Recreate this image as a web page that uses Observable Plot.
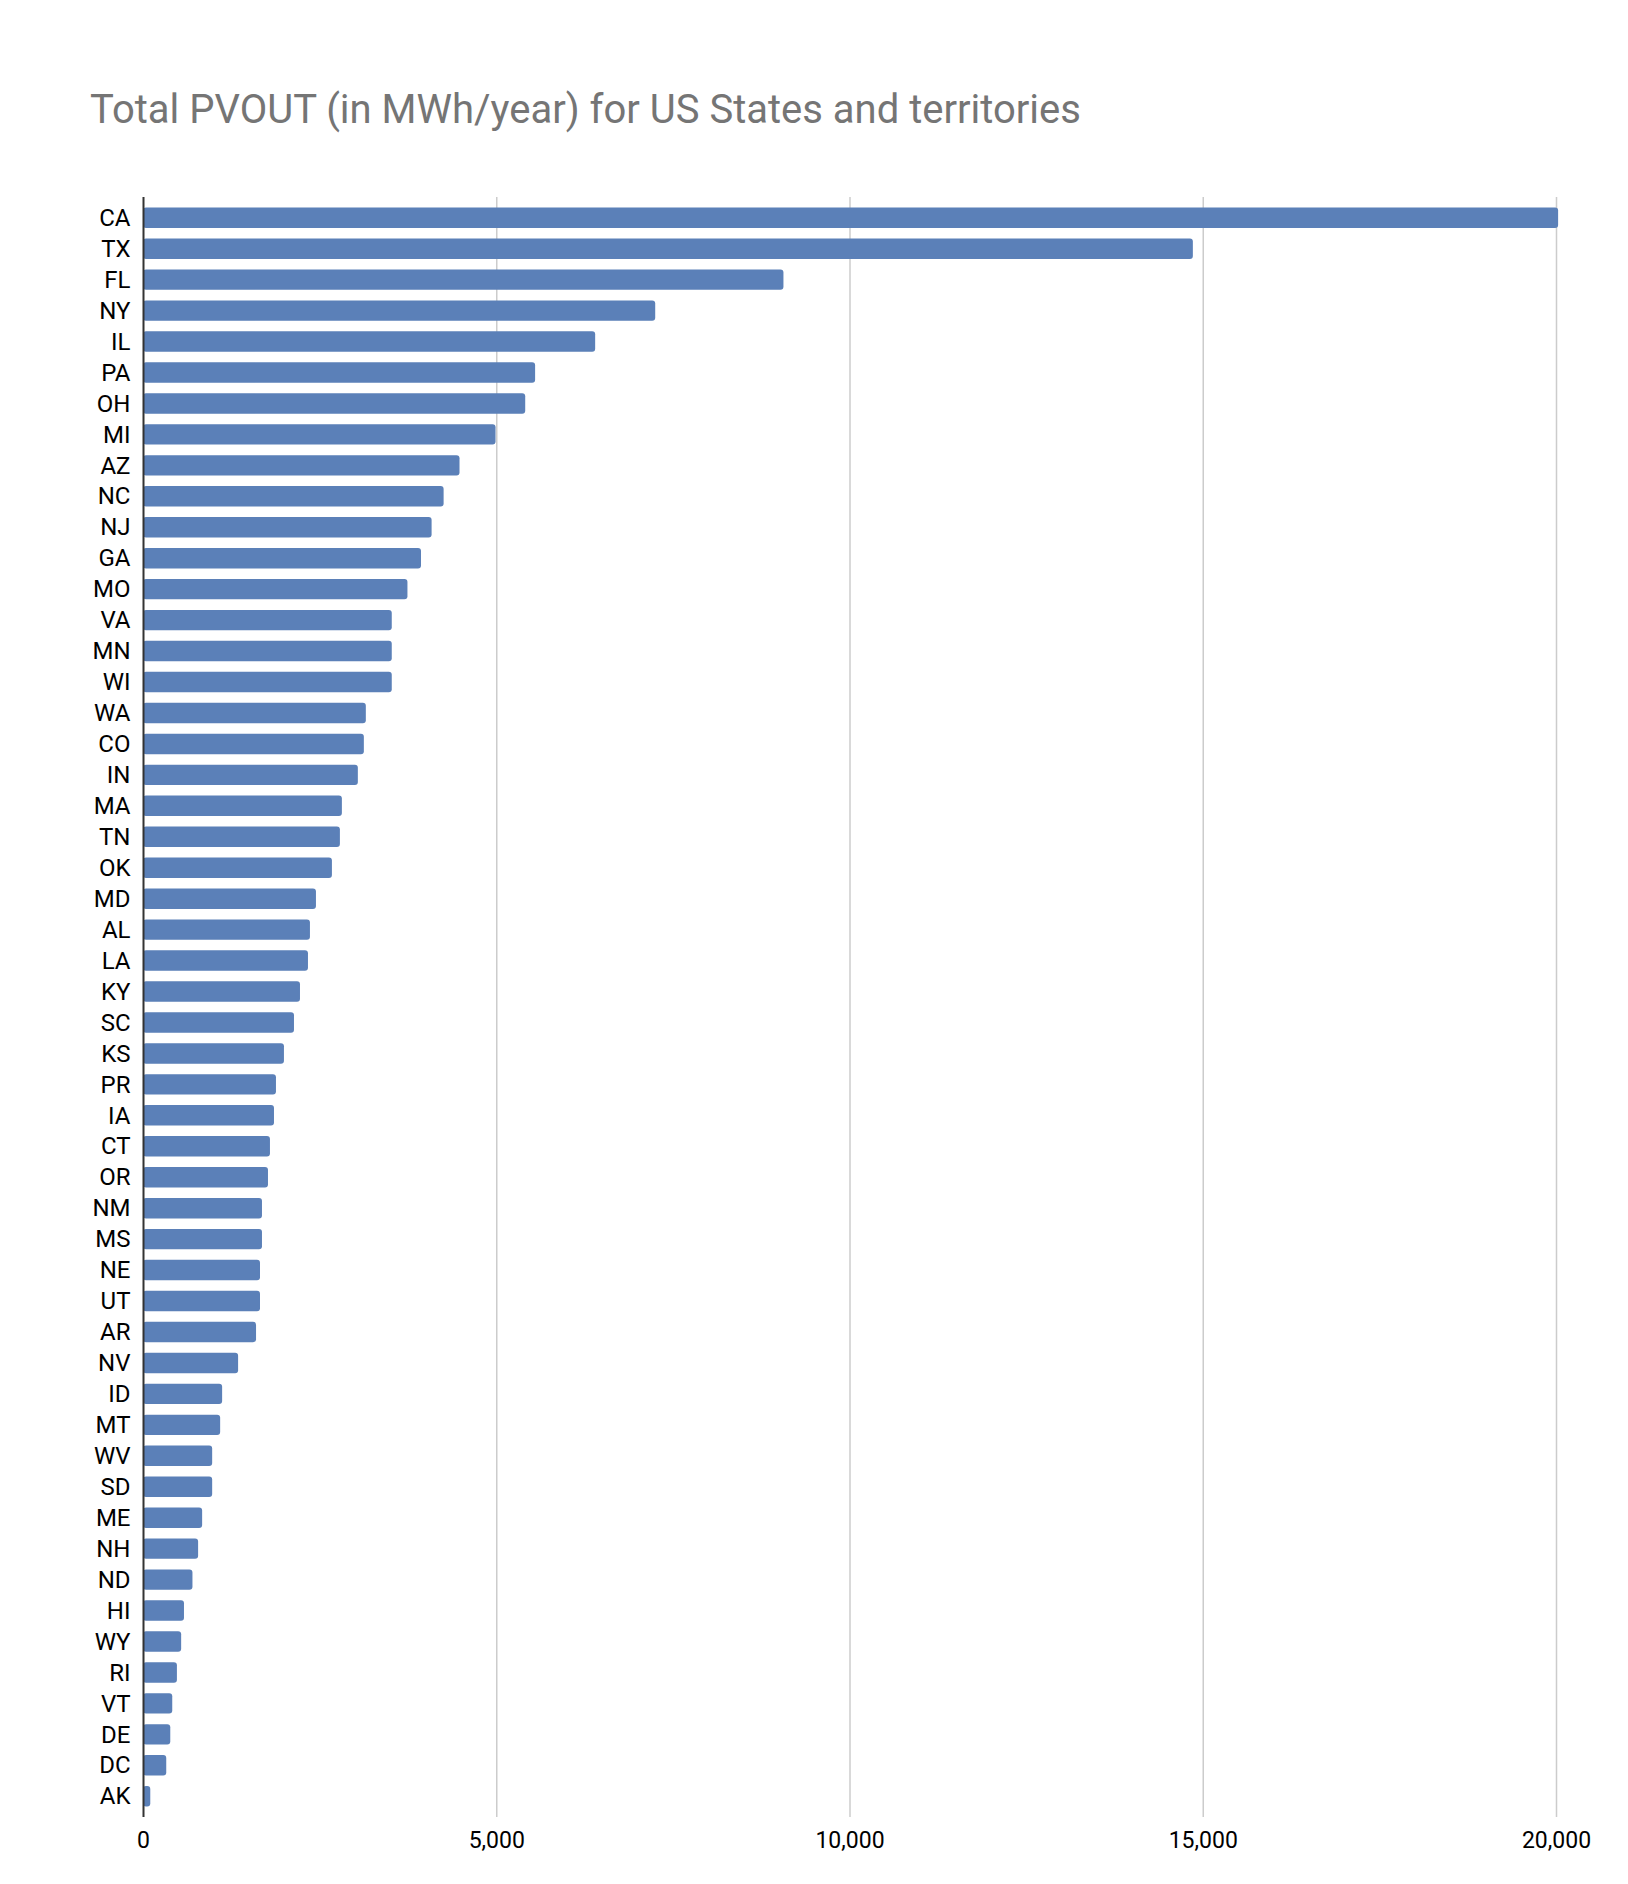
<!DOCTYPE html>
<html>
<head>
<meta charset="utf-8">
<script src="https://cdn.jsdelivr.net/npm/d3@7"></script>
<script src="https://cdn.jsdelivr.net/npm/@observablehq/plot@0.6"></script>
<style>
  html, body { margin: 0; padding: 0; background: #fff; }
  body { width: 1628px; height: 1884px; position: relative; font-family: Roboto, "Noto Sans", sans-serif; }
  #title { position: absolute; left: 90px; top: 90px; font-size: 40px; line-height: 40px; color: #757575; white-space: nowrap; }
  #chart { position: absolute; left: 0; top: 160px; }
</style>
</head>
<body>
<div id="title">Total PVOUT (in MWh/year) for US States and territories</div>
<div id="chart"></div>
<script>
const states = ["CA","TX","FL","NY","IL","PA","OH","MI","AZ","NC","NJ","GA","MO","VA","MN","WI","WA","CO","IN","MA","TN","OK","MD","AL","LA","KY","SC","KS","PR","IA","CT","OR","NM","MS","NE","UT","AR","NV","ID","MT","WV","SD","ME","NH","ND","HI","WY","RI","VT","DE","DC","AK"];
const pvout = [20030,14860,9065,7250,6400,5550,5410,4990,4480,4255,4085,3935,3743,3521,3521,3521,3154,3126,3041,2815,2787,2674,2448,2363,2335,2222,2137,1995,1882,1854,1797,1769,1684,1684,1656,1656,1600,1346,1120,1092,979,979,837,780,700,580,540,480,414,386,329,103];
const xTicks = [0, 5000, 10000, 15000, 20000];
const gridTicks = [5000, 10000, 15000, 20000];

const data = states.map((s, i) => ({state: s, value: pvout[i]}));

const chart = Plot.plot({
  width: 1628,
  height: 1720,
  marginTop: 37,
  marginBottom: 63,
  marginLeft: 143,
  marginRight: 72,
  style: {fontFamily: "Roboto, sans-serif", fontSize: "23px", color: "#000", background: "#fff"},
  x: {domain: [0, 20000], label: null},
  y: {domain: states, padding: 0.34, label: null},
  marks: [
    Plot.gridX(gridTicks, {stroke: "#cccccc", strokeOpacity: 1, strokeWidth: 1.5}),
    Plot.barX(data, {y: "state", x: "value", fill: "#5b80b8", rx: 3}),
    Plot.ruleX([0], {stroke: "#333333", strokeWidth: 2}),
    Plot.axisX(xTicks, {tickSize: 0, tickPadding: 14, tickFormat: d => d3.format(",")(d), fontSize: 23, fill: "#000", label: null}),
    Plot.axisY({tickSize: 0, tickPadding: 13, fontSize: 24, fill: "#000", label: null})
  ]
});
document.getElementById("chart").appendChild(chart);
</script>
</body>
</html>
